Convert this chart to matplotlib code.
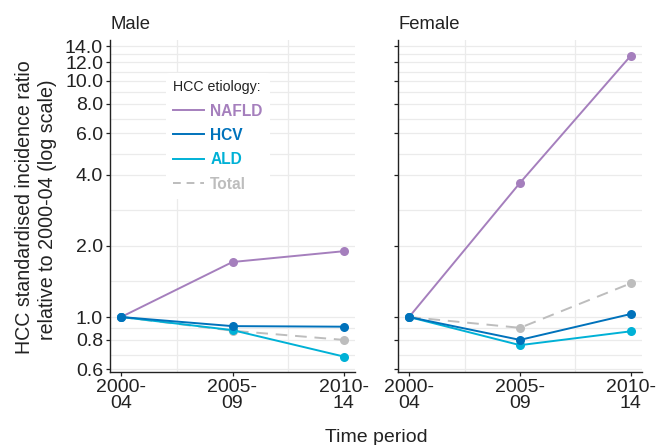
import numpy as np
import matplotlib
matplotlib.use("Agg")
import matplotlib.pyplot as plt
from matplotlib.lines import Line2D

plt.rcParams['font.family'] = ['Liberation Sans', 'DejaVu Sans']

periods = ["2000-\n04", "2005-\n09", "2010-\n14"]
panels = ["Male", "Female"]
series = ["NAFLD", "HCV", "ALD", "Total"]
male_nafld = [1.0, 1.71, 1.90]
male_hcv = [1.0, 0.915, 0.91]
male_ald = [1.0, 0.88, 0.68]
male_total = [1.0, 0.875, 0.80]
female_nafld = [1.0, 3.70, 12.8]
female_hcv = [1.0, 0.80, 1.03]
female_ald = [1.0, 0.76, 0.87]
female_total = [1.0, 0.90, 1.39]
yticks = [0.6, 0.8, 1.0, 2.0, 4.0, 6.0, 8.0, 10.0, 12.0, 14.0]

colors = {"NAFLD": "#a57fbd", "HCV": "#0072bb", "ALD": "#00b1d6", "Total": "#bdbdbd"}
data = {"Male": [male_nafld, male_hcv, male_ald, male_total],
        "Female": [female_nafld, female_hcv, female_ald, female_total]}

fig = plt.figure(figsize=(6.56, 4.45), dpi=100)
axL = fig.add_axes([110/656, 1-372/445, 245/656, 332/445])
axR = fig.add_axes([398/656, 1-372/445, 244/656, 332/445])

x = np.arange(len(periods))
ymin, ymax = 0.585, 14.9
minor = [np.sqrt(a*b) for a, b in zip(yticks[:-1], yticks[1:])]

for ax, name in zip([axL, axR], panels):
    ax.set_yscale('log')
    ax.set_ylim(ymin, ymax)
    ax.set_xlim(-0.1, 2.1)
    for yv in yticks + minor:
        ax.axhline(yv, color='#ebebeb', lw=0.9, zorder=0)
    for xv in [0.5, 1.5]:
        ax.axvline(xv, color='#ebebeb', lw=0.9, zorder=0)
    vals = data[name]
    order = [3, 0, 2, 1]
    for i in order:
        s = series[i]
        ls = (0, (6, 4)) if s == "Total" else '-'
        ax.plot(x, vals[i], color=colors[s], lw=1.4, ls=ls, zorder=2)
        ax.plot(x, vals[i], 'o', color=colors[s], ms=6.5, zorder=3, mec='none')
    ax.set_xticks(x)
    ax.set_xticklabels(periods, fontsize=14, linespacing=0.95)
    ax.yaxis.set_minor_locator(matplotlib.ticker.NullLocator())
    ax.set_yticks(yticks)
    if name == "Male":
        ax.set_yticklabels([f"{v:.1f}" for v in yticks], fontsize=14)
    else:
        ax.set_yticklabels([])
    for sp in ['top', 'right']:
        ax.spines[sp].set_visible(False)
    for sp in ['left', 'bottom']:
        ax.spines[sp].set_color('#222222')
        ax.spines[sp].set_linewidth(1.0)
    ax.tick_params(axis='both', length=3, width=0.9, color='#222222', pad=2, labelcolor='#222222')
    ax.set_title(name, loc='left', fontsize=13.3, color='#222222', pad=8)
    ax.set_facecolor('white')

ylab1 = "HCC standardised incidence ratio"
ylab2 = "relative to 2000-04 (log scale)"
fig.text(25/656, 1-207/445, ylab1, rotation=90, ha='center', va='center', fontsize=14.1, color='#222222')
fig.text(48/656, 1-210/445, ylab2, rotation=90, ha='center', va='center', fontsize=14.1, color='#222222')
fig.text(376/656, 1-437/445, "Time period", ha='center', va='center', fontsize=14, color='#222222')

handles = [Line2D([], [], color=colors[s], lw=1.4, ls=((0, (4, 3)) if s == "Total" else '-')) for s in series]
leg = axL.legend(handles, series, title="HCC etiology:", loc='upper left', bbox_to_anchor=(0.228, 0.9),
                 frameon=True, fontsize=11.2, title_fontsize=10.2, handlelength=2.0, labelspacing=0.6,
                 borderpad=0.45, handletextpad=0.4, borderaxespad=0)
leg.get_frame().set_facecolor('white')
leg.get_frame().set_edgecolor('none')
leg.get_frame().set_alpha(1)
leg._legend_box.align = 'left'
for t, s in zip(leg.get_texts(), series):
    t.set_color(colors[s])
    t.set_fontweight('bold')
leg.get_title().set_color('#222222')

fig.savefig("out.png", dpi=100)
